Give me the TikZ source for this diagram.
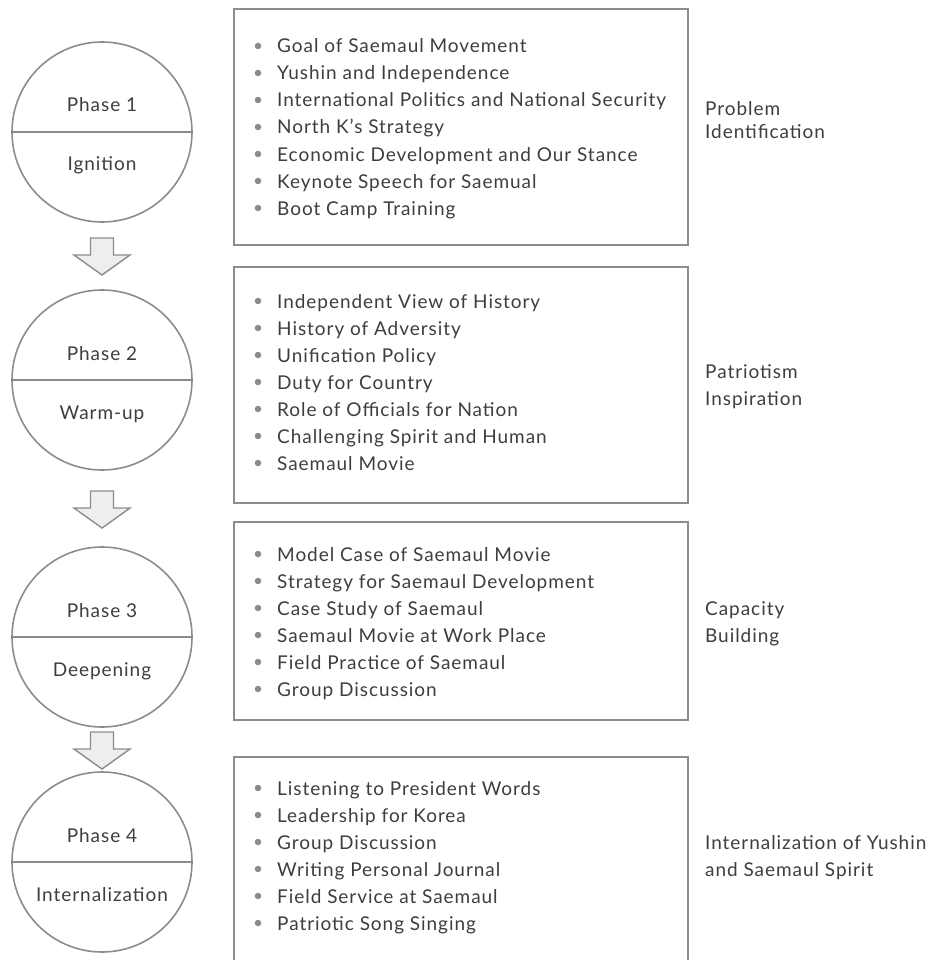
\documentclass[tikz,border=0pt]{standalone}
\usepackage{fontspec}
\setmainfont{Lato}[LetterSpace=5]
\usetikzlibrary{calc}
\definecolor{lineg}{HTML}{8C8C8C}
\definecolor{txt}{HTML}{3E3E3E}
\definecolor{arrowf}{HTML}{EEEEEE}
\definecolor{bulg}{HTML}{8A8A8A}
\begin{document}
\begin{tikzpicture}[x=1pt,y=-1pt,
  phase/.style={circle,draw=lineg,line width=1.6pt,minimum size=180pt,inner sep=0pt,fill=white},
  box/.style={draw=lineg,line width=1.6pt,fill=white,inner sep=0pt},
  ptext/.style={font=\fontsize{19}{21}\selectfont,text=txt,inner sep=0pt,anchor=base},
  item/.style={font=\fontsize{19}{21}\selectfont,text=txt,anchor=base west,inner sep=0pt},
  side/.style={font=\fontsize{19}{21}\selectfont,text=txt,anchor=base west,inner sep=0pt},
  blockarrow/.style={draw=lineg,line width=1.4pt,fill=arrowf,line join=miter},
  bullet/.style={circle,fill=bulg,inner sep=0pt,minimum size=6.5pt}
]
\useasboundingbox (0,0) rectangle (931,960);
\clip (0,0) rectangle (931,960);
\fill[white] (0,0) rectangle (931,960);

% circles
\foreach \i/\cy/\top/\bot in {1/132/Phase 1/Ignition,2/380/Phase 2/Warm-up,3/637/Phase 3/Deepening,4/862/Phase 4/Internalization}{
  \node[phase] (c\i) at (102,\cy) {};
  \draw[lineg,line width=1.6pt] (c\i.west) -- (c\i.east);
  \node[ptext] (ct\i) at (102,\cy-20) {\top};
  \node[ptext] (cb\i) at (102,\cy+39) {\bot};
}

% block arrows between circles
\foreach \a/\y in {1/238,2/491,3/732}{
  \draw[blockarrow] (90.5,\y) -- (113.5,\y) -- (113.5,\y+17) -- (130,\y+17) -- (102,\y+37) -- (74,\y+17) -- (90.5,\y+17) -- cycle;
}

% boxes
\node[box,minimum width=454pt,minimum height=236pt,anchor=north west] (b1) at (233,8) {};
\node[box,minimum width=454pt,minimum height=236pt,anchor=north west] (b2) at (233,266) {};
\node[box,minimum width=454pt,minimum height=198pt,anchor=north west] (b3) at (233,521) {};
\node[box,minimum width=454pt,minimum height=230pt,anchor=north west] (b4) at (233,756) {};

% items
\foreach \t [count=\k] in {Goal of Saemaul Movement,Yushin and Independence,International Politics and National Security,North K’s Strategy,Economic Development and Our Stance,Keynote Speech for Saemual,Boot Camp Training}{
  \node[bullet] (ba\k) at (258,53-27+27*\k-7) {};
  \node[item] (ia\k) at (277,53-27+27*\k) {\t};
}
\foreach \t [count=\k] in {Independent View of History,History of Adversity,Unification Policy,Duty for Country,Role of Officials for Nation,Challenging Spirit and Human,Saemaul Movie}{
  \node[bullet] (bb\k) at (258,308-27+27*\k-7) {};
  \node[item] (ib\k) at (277,308-27+27*\k) {\t};
}
\foreach \t [count=\k] in {Model Case of Saemaul Movie,Strategy for Saemaul Development,Case Study of Saemaul,Saemaul Movie at Work Place,Field Practice of Saemaul,Group Discussion}{
  \node[bullet] (bc\k) at (258,561-27+27*\k-7) {};
  \node[item] (ic\k) at (277,561-27+27*\k) {\t};
}
\foreach \t [count=\k] in {Listening to President Words,Leadership for Korea,Group Discussion,Writing Personal Journal,Field Service at Saemaul,Patriotic Song Singing}{
  \node[bullet] (bd\k) at (258,795-27+27*\k-7) {};
  \node[item] (id\k) at (277,795-27+27*\k) {\t};
}

% side labels
\node[side] (l1a) at (705,116) {Problem};
\node[side] (l1b) at (705,139) {Identification};
\node[side] (l2a) at (705,378) {Patriotism};
\node[side] (l2b) at (705,405) {Inspiration};
\node[side] (l3a) at (705,615) {Capacity};
\node[side] (l3b) at (705,642) {Building};
\node[side] (l4a) at (705,849) {Internalization of Yushin};
\node[side] (l4b) at (705,876) {and Saemaul Spirit};
\end{tikzpicture}
\end{document}
